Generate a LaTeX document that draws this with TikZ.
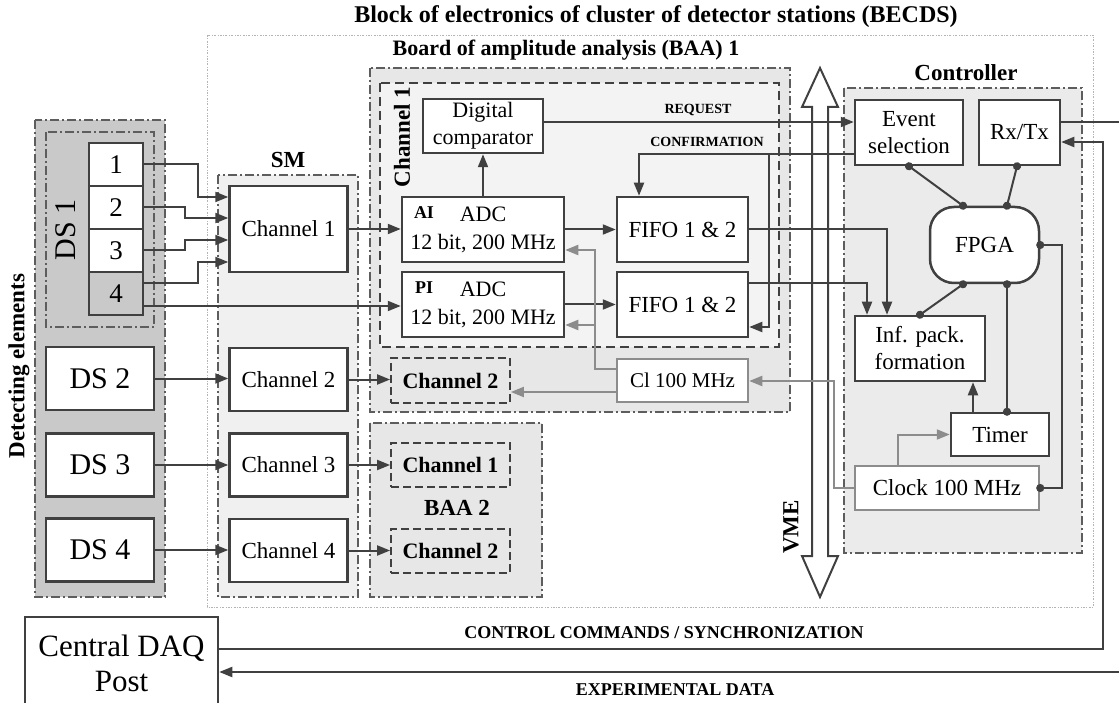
\documentclass[tikz,border=0pt]{standalone}
\usepackage{fontspec}
\setmainfont{Liberation Serif}
\usetikzlibrary{arrows.meta}
\definecolor{dk}{HTML}{404040}
\definecolor{gr}{HTML}{8C8C8C}
\definecolor{fillA}{HTML}{C9C9C9}
\definecolor{fillSM}{HTML}{F0F0F0}
\definecolor{fillB}{HTML}{E7E7E7}
\definecolor{fillC}{HTML}{F3F3F3}
\definecolor{fillK}{HTML}{EBEBEB}
\definecolor{dotc}{HTML}{B4B4B4}
\begin{document}
\begin{tikzpicture}[x=1pt,y=-1pt,
  fN/.style={font=\fontsize{23}{27}\selectfont},
  box/.style={draw=dk, line width=2.5pt, fill=white, inner sep=0pt, align=center, fN},
  graybox/.style={box, draw=gr},
  dbox/.style={draw=dk, line width=1.8pt, dash pattern=on 8pt off 4pt, inner sep=0pt, font=\fontsize{22}{26}\selectfont\bfseries},
  region/.style={draw=dk!85, line width=1.2pt, dash pattern=on 9pt off 3pt on 2pt off 3pt},
  outer/.style={draw=dotc, line width=0.9pt, dash pattern=on 2pt off 1.5pt on 0.7pt off 1.5pt},
  title/.style={font=\fontsize{23}{27}\selectfont\bfseries},
  small/.style={font=\fontsize{14}{16}\selectfont\bfseries},
  conn/.style={draw=dk, line width=2pt},
  arr/.style={conn, -{Triangle[length=13pt,width=10pt]}},
  garr/.style={draw=gr, line width=2pt, -{Triangle[length=13pt,width=10pt]}},
  dconn/.style={conn, {Circle[length=8pt]}-{Circle[length=8pt]}, shorten <=-4pt, shorten >=-4pt},
]
\useasboundingbox (0,0) rectangle (1119,703);

% ---------- regions ----------
\path[outer] (207,35) rectangle (1093,607);
\path[region, fill=fillA] (35,120) rectangle (165,597);
\path[region, fill=fillA] (46,132) rectangle (154,327);
\path[region, fill=fillSM] (218,175) rectangle (358,597);
\path[region, fill=fillB] (370,68) rectangle (790,412);
\path[draw=dk, line width=1.8pt, dash pattern=on 9pt off 5pt, fill=fillC] (380,83) rectangle (779,347);
\path[region, fill=fillB] (370,423) rectangle (542,597);
\path[region, fill=fillK] (844,88) rectangle (1082,553);

% ---------- region labels ----------
\node[title, font=\fontsize{24}{28}\selectfont\bfseries] (tBECDS) at (656,17) {Block of electronics of cluster of detector stations (BECDS)};
\node[title, font=\fontsize{22}{26}\selectfont\bfseries] (tBAA1) at (566,50) {Board of amplitude analysis (BAA) 1};
\node[title] (tSM) at (288,160) {SM};
\node[title] (tCtrl) at (966,73) {Controller};
\node[title] (tBAA2) at (457,508) {BAA 2};
\node[title, rotate=90] (tDet) at (19,366) {Detecting elements};
\node[rotate=90, font=\fontsize{30}{34}\selectfont] (tDS1) at (66,230) {DS 1};
\node[title, rotate=90] (tCh1) at (402,137) {Channel 1};

% ---------- VME bus ----------
\path[draw=dk, line width=2pt, fill=white] (820,68) -- (838,107) -- (828,107) -- (828,556) -- (838,556)
  -- (820,597) -- (802,556) -- (812,556) -- (812,107) -- (802,107) -- cycle;
\node[title, rotate=90] (tVME) at (791,527) {VME};

% ---------- detecting elements ----------
\node[box, minimum width=54, minimum height=43, font=\fontsize{27}{30}\selectfont] (c1) at (116,164.5) {1};
\node[box, minimum width=54, minimum height=43, font=\fontsize{27}{30}\selectfont] (c2) at (116,207.5) {2};
\node[box, minimum width=54, minimum height=43, font=\fontsize{27}{30}\selectfont] (c3) at (116,250.5) {3};
\node[box, minimum width=54, minimum height=43, font=\fontsize{27}{30}\selectfont, fill=fillA] (c4) at (116,293.5) {4};
\node[box, minimum width=108, minimum height=63, font=\fontsize{30}{34}\selectfont] (ds2) at (100,378.5) {DS 2};
\node[box, minimum width=108, minimum height=63, font=\fontsize{30}{34}\selectfont] (ds3) at (100,465) {DS 3};
\node[box, minimum width=108, minimum height=63, font=\fontsize{30}{34}\selectfont] (ds4) at (100,550) {DS 4};

% ---------- SM ----------
\node[box, minimum width=118, minimum height=86] (sm1) at (288.5,229) {Channel 1};
\node[box, minimum width=118, minimum height=63] (sm2) at (288.5,379.5) {Channel 2};
\node[box, minimum width=118, minimum height=63] (sm3) at (288.5,465) {Channel 3};
\node[box, minimum width=118, minimum height=63] (sm4) at (288.5,550.5) {Channel 4};

% ---------- BAA 1 ----------
\node[box, minimum width=120, minimum height=54, font=\fontsize{22}{27}\selectfont] (dc) at (483,126) {Digital\\comparator};
\node[box, minimum width=162, minimum height=65, font=\fontsize{22}{28}\selectfont] (ai) at (483,229.5) {ADC\\12 bit, 200 MHz};
\node[box, minimum width=162, minimum height=65, font=\fontsize{22}{28}\selectfont] (pi) at (483,304.5) {ADC\\12 bit, 200 MHz};
\node[font=\fontsize{18}{20}\selectfont\bfseries] (tAI) at (424,213) {AI};
\node[font=\fontsize{18}{20}\selectfont\bfseries] (tPI) at (424,288) {PI};
\node[box, minimum width=131, minimum height=65] (f1) at (682.5,229.5) {FIFO 1 \& 2};
\node[box, minimum width=131, minimum height=65] (f2) at (682.5,304.5) {FIFO 1 \& 2};
\node[dbox, minimum width=119, minimum height=45] (ch2a) at (450.5,380.5) {Channel 2};
\node[graybox, minimum width=131, minimum height=43, font=\fontsize{21}{25}\selectfont] (cl) at (682.5,380.5) {Cl 100 MHz};

% ---------- BAA 2 ----------
\node[dbox, minimum width=119, minimum height=44] (ch1b) at (450.5,465) {Channel 1};
\node[dbox, minimum width=119, minimum height=44] (ch2b) at (450.5,551) {Channel 2};

% ---------- Controller ----------
\node[box, minimum width=108, minimum height=65] (es) at (909,132.5) {Event\\selection};
\node[box, minimum width=81, minimum height=65] (rx) at (1019.5,132.5) {Rx/Tx};
\node[box, minimum width=109, minimum height=76, rounded corners=24pt] (fpga) at (984.5,245) {FPGA};
\node[box, minimum width=130, minimum height=65] (ipf) at (920,348.5) {Inf. pack.\\formation};
\node[box, minimum width=98, minimum height=43] (tm) at (1000,434.5) {Timer};
\node[graybox, minimum width=184, minimum height=44] (ck) at (947,488) {Clock 100 MHz};

% ---------- central DAQ ----------
\node[box, minimum width=193, minimum height=93, font=\fontsize{31}{35}\selectfont] (daq) at (121.5,663.5) {Central DAQ\\Post};

% ---------- connectors: detecting elements -> SM ----------
\draw[arr] (c1.east) -| (198,197) -- (sm1.west |- 0,197);
\draw[arr] (c2.east) -| (185,218) -- (sm1.west |- 0,218);
\draw[arr] (c3.east) -| (185,240) -- (sm1.west |- 0,240);
\draw[arr] (c4.east |- 0,283) -| (198,262) -- (sm1.west |- 0,262);
\draw[arr] (c4.east |- 0,306) -- (pi.west |- 0,306);
\draw[arr] (ds2.east) -- (sm2.west |- ds2.east);
\draw[arr] (ds3.east) -- (sm3.west |- ds3.east);
\draw[arr] (ds4.east) -- (sm4.west |- ds4.east);

% ---------- SM -> BAA ----------
\draw[arr] (sm1.east) -- (ai.west |- sm1.east);
\draw[arr] (sm2.east) -- (ch2a.west |- sm2.east);
\draw[arr] (sm3.east) -- (ch1b.west |- sm3.east);
\draw[arr] (sm4.east) -- (ch2b.west |- sm4.east);

% ---------- inside BAA 1 ----------
\draw[arr] (ai.north) -- (dc.south);
\draw[arr] (ai.east) -- (f1.west);
\draw[arr] (pi.east) -- (f2.west);
\draw[garr] (cl.west |- 0,369) -| (595,250) -- (ai.east |- 0,250);
\draw[garr] (595,325) -- (pi.east |- 0,325);
\draw[garr] (cl.west |- 0,392) -- (ch2a.east |- 0,392);

% ---------- BAA 1 <-> controller ----------
\draw[arr] (dc.east |- 0,122) -- (es.west |- 0,122);
\node[small] (tReq) at (698,110) {REQUEST};
\draw[arr] (es.west |- 0,154) -| (639,0 |- f1.north);
\draw[arr] (769,154) |- (f2.east |- 0,327);
\node[small] (tConf) at (707,142) {CONFIRMATION};
\draw[arr] (f1.east) -| (887,0 |- ipf.north);
\draw[arr] (f2.east |- 0,283) -| (867,0 |- ipf.north);
\draw[garr] (ck.west) -| (834,381) -- (cl.east |- 0,381);

% ---------- inside controller ----------
\draw[dconn] (es.south) -- (963,0 |- fpga.north);
\draw[dconn] (1017,0 |- rx.south) -- (1007,0 |- fpga.north);
\draw[dconn] (963,0 |- fpga.south) -- (ipf.north);
\draw[dconn] (1007,0 |- fpga.south) -- (1007,0 |- tm.north);
\draw[dconn] (fpga.east) -| (1062,488) -- (ck.east);
\draw[arr] (973,0 |- tm.north) -- (973,0 |- ipf.south);
\draw[garr] (898,0 |- ck.north) |- (tm.west);

% ---------- controller <-> central DAQ ----------
\coordinate (edge) at (1130,122);
\draw[arr] (daq.east |- 0,649) -| (1103,142) -- (rx.east |- 0,142);
\draw[arr] (rx.east |- 0,122) -- (edge) |- (daq.east |- 0,672);
\node[font=\fontsize{18}{20}\selectfont\bfseries] (tCC) at (664,633) {CONTROL COMMANDS / SYNCHRONIZATION};
\node[font=\fontsize{18}{20}\selectfont\bfseries] (tED) at (675,690) {EXPERIMENTAL DATA};
\end{tikzpicture}
\end{document}
